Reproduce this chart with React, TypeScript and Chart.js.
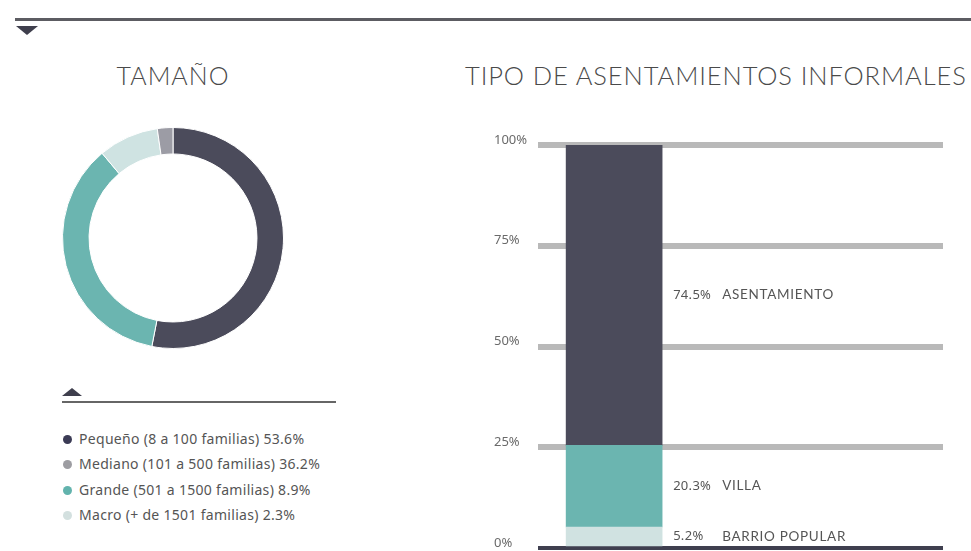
import React, { useEffect, useRef } from 'react';
import { Chart, registerables } from 'chart.js';

Chart.register(...registerables);

// ---- Data ----
const sizeLabels = [
  'Pequeño (8 a 100 familias)',
  'Mediano (101 a 500 familias)',
  'Grande (501 a 1500 familias)',
  'Macro (+ de 1501 familias)',
];
const sizeValues = [53.6, 36.2, 8.9, 2.3];
const sizeLegendColors = ['#3b3b55', '#9d9da2', '#62b3ad', '#d3e0df'];
const ringColors = ['#4b4b5b', '#6bb5b0', '#cfe3e2', '#9c9ca5'];

const typeLabels = ['BARRIO POPULAR', 'VILLA', 'ASENTAMIENTO'];
const typeValues = [5.2, 20.3, 74.5];
const typeColors = ['#d0e2e1', '#6bb5b0', '#4b4b5b'];
const yTickStep = 25;
const yMax = 100;

const TEXT = '#4a4a4a';

const barLabelPlugin = {
  id: 'barLabels',
  afterDatasetsDraw(chart: any) {
    const ctx = chart.ctx;
    ctx.save();
    ctx.textBaseline = 'middle';
    ctx.textAlign = 'left';
    ctx.fillStyle = '#555';
    chart.data.datasets.forEach((ds: any, i: number) => {
      const el = chart.getDatasetMeta(i).data[0];
      if (!el) return;
      const y = (el.y + el.base) / 2;
      const x = el.x + el.width / 2 + 11;
      ctx.font = '13px "Noto Sans"';
      (ctx as any).letterSpacing = '0.3px';
      ctx.fillText(typeValues[i].toFixed(1) + '%', x, y);
      ctx.font = '13.5px Lato';
      (ctx as any).letterSpacing = '0.7px';
      ctx.fillText(typeLabels[i], x + 49, y);
    });
    ctx.restore();
  },
};

function Donut() {
  const ref = useRef<HTMLCanvasElement>(null);
  useEffect(() => {
    const chart = new Chart(ref.current!, {
      type: 'doughnut',
      data: {
        labels: sizeLabels,
        datasets: [
          {
            data: sizeValues,
            backgroundColor: ringColors,
            borderColor: '#ffffff',
            borderWidth: 1,
          },
        ],
      },
      options: {
        responsive: false,
        animation: false,
        cutout: '76%',
        plugins: { legend: { display: false }, tooltip: { enabled: false } },
      },
    });
    return () => chart.destroy();
  }, []);
  return (
    <canvas
      ref={ref}
      width={222}
      height={222}
      style={{ position: 'absolute', left: 62, top: 127, width: 222, height: 222 }}
    />
  );
}

function Bars() {
  const ref = useRef<HTMLCanvasElement>(null);
  useEffect(() => {
    const chart = new Chart(ref.current!, {
      type: 'bar',
      data: {
        datasets: typeLabels.map((l, i) => ({
          label: l,
          data: [{ x: 0, y: typeValues[i] }],
          backgroundColor: typeColors[i],
          borderWidth: 0,
          barThickness: 96,
        })),
      },
      options: {
        responsive: false,
        animation: false,
        layout: { padding: { top: 25, bottom: 22, right: 0, left: 0 } },
        scales: {
          x: {
            type: 'linear',
            min: -0.5,
            max: 2.16,
            offset: false,
            stacked: true,
            display: false,
            grid: { offset: false },
          },
          y: {
            stacked: true,
            min: 0,
            max: yMax,
            afterFit: (s: any) => {
              s.width = 44;
            },
            border: { display: false },
            grid: {
              drawTicks: false,
              color: (c: any) => (c.tick && c.tick.value === 0 ? '#3f3f4f' : '#b9b9b9'),
              lineWidth: (c: any) => (c.tick && c.tick.value === 0 ? 4 : 6),
            },
            ticks: {
              stepSize: yTickStep,
              crossAlign: 'far',
              labelOffset: -5,
              color: '#6a6a6a',
              font: { family: 'Noto Sans', size: 13 },
              callback: (v: any) => v + '%',
            },
          },
        },
        plugins: { legend: { display: false }, tooltip: { enabled: false } },
      },
      plugins: [barLabelPlugin],
    });
    return () => chart.destroy();
  }, []);
  return (
    <canvas
      ref={ref}
      width={449}
      height={450}
      style={{ position: 'absolute', left: 494, top: 120, width: 449, height: 450 }}
    />
  );
}

export default function App() {
  const legendTops = [439, 464, 490, 515];
  return (
    <div
      style={{
        position: 'absolute',
        left: 0,
        top: 0,
        width: 971,
        height: 551,
        overflow: 'hidden',
        background: '#ffffff',
        fontFamily: 'Lato, sans-serif',
      }}
    >
      <div style={{ position: 'absolute', left: 15, top: 18, width: 956, height: 3, background: '#5c5c62' }} />
      <div
        style={{
          position: 'absolute',
          left: 16,
          top: 26,
          width: 0,
          height: 0,
          borderLeft: '11px solid transparent',
          borderRight: '11px solid transparent',
          borderTop: '9px solid #3f3f4d',
        }}
      />
      <div
        style={{
          position: 'absolute',
          left: 73,
          top: 60,
          width: 200,
          textAlign: 'center',
          fontSize: 25,
          fontWeight: 300,
          lineHeight: '30px',
          letterSpacing: 1,
          color: TEXT,
        }}
      >
        TAMAÑO
      </div>
      <div
        style={{
          position: 'absolute',
          left: 465,
          top: 60,
          fontSize: 25.5,
          fontWeight: 300,
          lineHeight: '30px',
          letterSpacing: 0.9,
          color: TEXT,
          whiteSpace: 'nowrap',
        }}
      >
        TIPO DE ASENTAMIENTOS INFORMALES
      </div>
      <Donut />
      <div
        style={{
          position: 'absolute',
          left: 62,
          top: 388,
          width: 0,
          height: 0,
          borderLeft: '10px solid transparent',
          borderRight: '10px solid transparent',
          borderBottom: '8px solid #3f3f4d',
        }}
      />
      <div style={{ position: 'absolute', left: 62, top: 401, width: 274, height: 2, background: '#666' }} />
      {sizeLabels.map((l, i) => (
        <div
          key={l}
          style={{
            position: 'absolute',
            left: 63,
            top: legendTops[i] - 10,
            height: 20,
            lineHeight: '20px',
            whiteSpace: 'nowrap',
            fontFamily: '"Noto Sans", sans-serif',
            fontSize: 14,
            letterSpacing: 0.3,
            color: '#555',
          }}
        >
          <span
            style={{
              display: 'inline-block',
              width: 9,
              height: 9,
              borderRadius: '50%',
              background: sizeLegendColors[i],
              marginRight: 7,
              verticalAlign: 'middle',
              position: 'relative',
              top: -1,
            }}
          />
          {l} {sizeValues[i].toFixed(1)}%
        </div>
      ))}
      <Bars />
    </div>
  );
}
